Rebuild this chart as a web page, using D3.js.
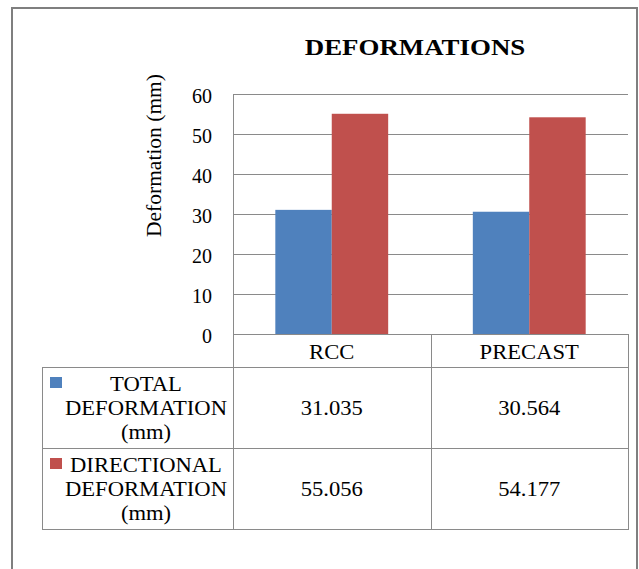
<!DOCTYPE html>
<html>
<head>
<meta charset="utf-8">
<script src="https://cdn.jsdelivr.net/npm/d3@7"></script>
<style>
  html, body { margin: 0; padding: 0; background: #fff; }
</style>
</head>
<body>
<svg id="fig" width="639" height="569" style="display:block"></svg>
<script>
// Chart data
const categories = ["RCC", "PRECAST"];
const seriesLabels = [
  ["TOTAL", "DEFORMATION", "(mm)"],
  ["DIRECTIONAL", "DEFORMATION", "(mm)"]
];
const totalDeformation = [31.035, 30.564];
const directionalDeformation = [55.056, 54.177];
const yTicks = [0, 10, 20, 30, 40, 50, 60];
const seriesColors = ["#4F81BD", "#C0504D"];

const series = [totalDeformation, directionalDeformation];

const serif = "'Liberation Serif'";
const svg = d3.select("#fig");
const gridColor = "#8a8a8a";
const sx = 1.13; // horizontal text widening

// Outer frame
svg.append("rect")
  .attr("x", 12).attr("y", 8)
  .attr("width", 625).attr("height", 620)
  .attr("fill", "none").attr("stroke", "#7f7f7f").attr("stroke-width", 2);

// Layout
const plotLeft = 233, plotRight = 628, plotTop = 94, plotBottom = 334;
const tableLeft = 42, headerBottom = 367, row1Bottom = 448, row2Bottom = 529;

const x0 = d3.scaleBand().domain(categories).range([plotLeft, plotRight]).padding(0);
const x1 = d3.scaleBand().domain(d3.range(series.length))
  .range([0, x0.bandwidth()]).paddingInner(0).paddingOuter(0.75);
const y = d3.scaleLinear().domain([0, 60]).range([plotBottom, plotTop]);

// Serif label, widened horizontally by stretching glyphs to a longer text length
function wideText(parent, x, yPos, str, opts = {}) {
  const t = parent.append("text")
    .attr("x", x).attr("y", yPos)
    .attr("text-anchor", opts.anchor || "middle")
    .style("font-family", serif)
    .style("font-size", (opts.size || 20) + "px")
    .style("font-weight", opts.weight || "normal")
    .attr("fill", "#000")
    .text(str);
  const w = t.node().getComputedTextLength();
  t.attr("textLength", w * (opts.scale || sx)).attr("lengthAdjust", "spacingAndGlyphs");
  return t;
}

// Title
wideText(svg, 415, 54.5, "DEFORMATIONS", { size: 24, weight: "bold", scale: 1.12 });

// Gridlines
svg.append("g").selectAll("line")
  .data(yTicks.filter(d => d !== 0))
  .join("line")
  .attr("x1", plotLeft).attr("x2", plotRight)
  .attr("y1", d => Math.round(y(d)) + 0.5).attr("y2", d => Math.round(y(d)) + 0.5)
  .attr("stroke", gridColor).attr("stroke-width", 1);

// Y axis tick labels
const yAxis = d3.axisLeft(y).tickValues(yTicks).tickSize(0).tickPadding(0);
const yAxisG = svg.append("g").attr("transform", `translate(212,0)`).call(yAxis)
  .attr("font-family", null).attr("font-size", null);
yAxisG.select(".domain").remove();
yAxisG.selectAll("text")
  .style("font-family", serif)
  .style("font-size", "20px")
  .attr("fill", "#000")
  .attr("dy", "0.42em");

// Y axis title
svg.append("text")
  .attr("transform", "translate(161,155.5) rotate(-90)")
  .attr("text-anchor", "middle")
  .style("font-family", serif)
  .style("font-size", "21.5px")
  .attr("fill", "#000")
  .text("Deformation (mm)");

// Bars
const groups = svg.append("g").selectAll("g")
  .data(categories)
  .join("g")
  .attr("transform", d => `translate(${x0(d)},0)`);

groups.selectAll("rect")
  .data((d, i) => series.map((s, k) => ({ k, v: s[i] })))
  .join("rect")
  .attr("x", d => x1(d.k))
  .attr("width", x1.bandwidth())
  .attr("y", d => y(d.v))
  .attr("height", d => y(0) - y(d.v))
  .attr("fill", d => seriesColors[d.k]);

// Data table grid
const tbl = svg.append("g").attr("stroke", gridColor).attr("stroke-width", 1).attr("fill", "none");
const hLines = [
  [plotLeft, plotRight, plotBottom],
  [tableLeft, plotRight, headerBottom],
  [tableLeft, plotRight, row1Bottom],
  [tableLeft, plotRight, row2Bottom]
];
hLines.forEach(([a, b, yy]) => {
  tbl.append("line").attr("x1", a).attr("x2", b + 0.5).attr("y1", yy + 0.5).attr("y2", yy + 0.5);
});
const vLines = [
  [plotLeft, plotTop, row2Bottom],
  [x0("PRECAST"), plotBottom, row2Bottom],
  [plotRight, plotBottom, row2Bottom],
  [tableLeft, headerBottom, row2Bottom]
];
vLines.forEach(([xx, a, b]) => {
  tbl.append("line").attr("x1", Math.round(xx) + 0.5).attr("x2", Math.round(xx) + 0.5).attr("y1", a).attr("y2", b + 1);
});

// Category headers
categories.forEach(c => {
  wideText(svg, x0(c) + x0.bandwidth() / 2, 358.5, c);
});

// Table values
const fmt = d3.format(".3f");
const rowBaselines = [415, 496];
series.forEach((s, k) => {
  categories.forEach((c, i) => {
    wideText(svg, x0(c) + x0.bandwidth() / 2, rowBaselines[k], fmt(s[i]));
  });
});

// Legend keys and series names
const keyTops = [377, 458];
const labelBaselines = [[391, 414.5, 438.5], [471.5, 495.5, 519.5]];
seriesLabels.forEach((lines, k) => {
  svg.append("rect")
    .attr("x", 50).attr("y", keyTops[k])
    .attr("width", 12).attr("height", 11)
    .attr("fill", seriesColors[k]);
  lines.forEach((ln, j) => {
    wideText(svg, 146, labelBaselines[k][j], ln);
  });
});
</script>
</body>
</html>
